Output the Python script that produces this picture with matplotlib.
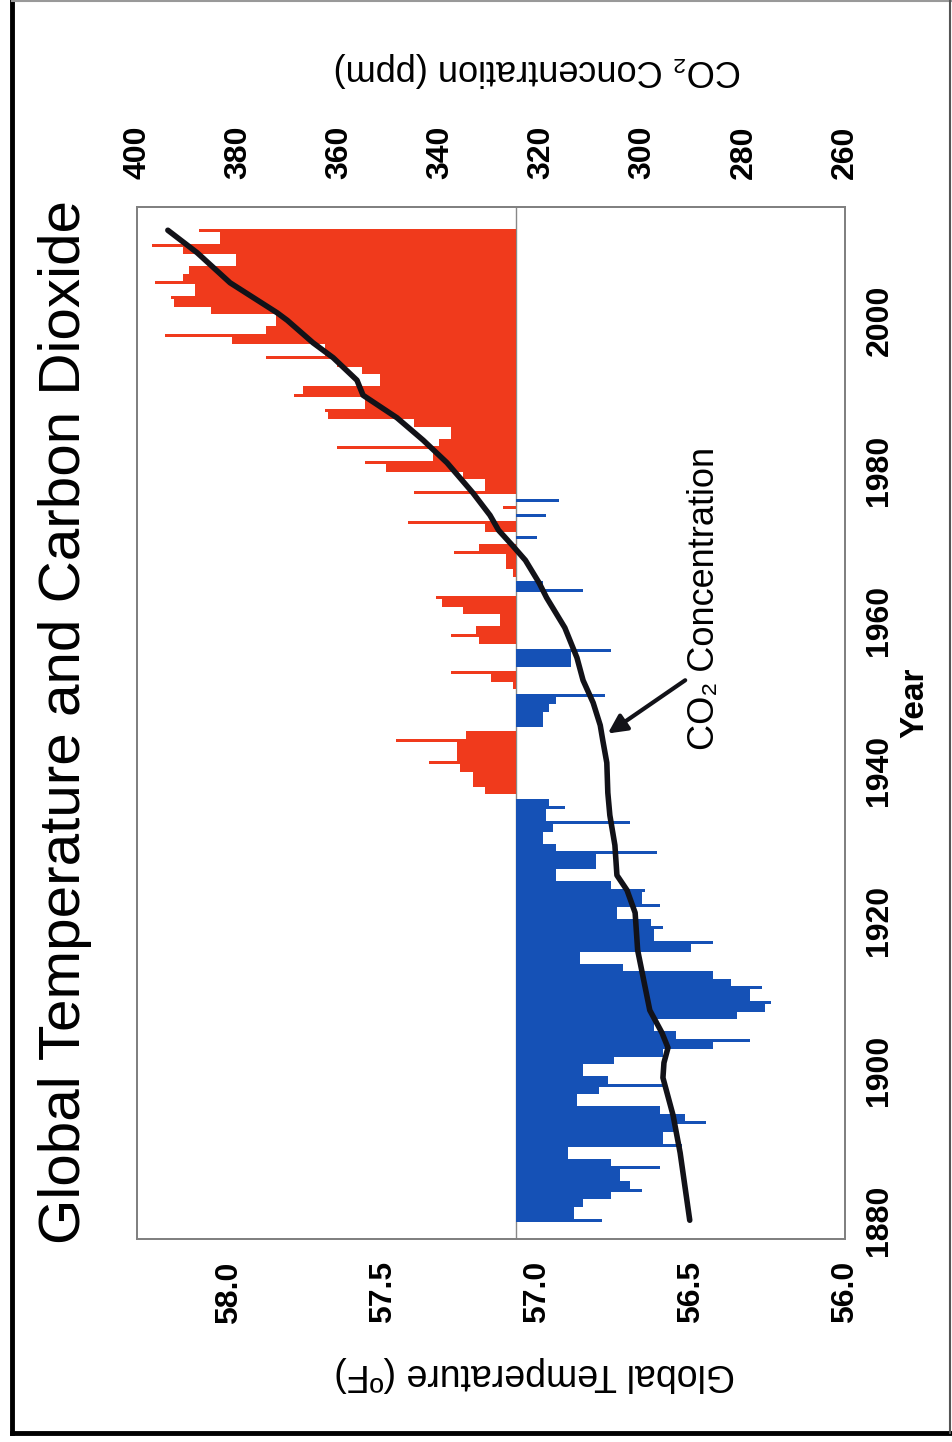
import numpy as np
import matplotlib
matplotlib.use('Agg')
import matplotlib.pyplot as plt
from matplotlib.lines import Line2D

plt.rcParams['font.family'] = ['Liberation Sans', 'DejaVu Sans']

## annual global temperature, deg F above/below the bar baseline
years = np.arange(1880, 2013)
temp_anom = np.array([
    -0.28, -0.19, -0.22, -0.31, -0.41, -0.37, -0.34, -0.47, -0.31, -0.17,   # 1880s
    -0.54, -0.48, -0.52, -0.62, -0.55, -0.47, -0.20, -0.27, -0.48, -0.30,   # 1890s
    -0.22, -0.32, -0.48, -0.64, -0.76, -0.52, -0.45, -0.72, -0.81, -0.83,   # 1900s
    -0.76, -0.80, -0.70, -0.64, -0.35, -0.21, -0.57, -0.64, -0.45, -0.48,   # 1910s
    -0.44, -0.33, -0.47, -0.41, -0.42, -0.31, -0.13, -0.26, -0.26, -0.46,   # 1920s
    -0.13, -0.09, -0.12, -0.37, -0.10, -0.16, -0.11, 0.10, 0.14, 0.14,      # 1930s
    0.18, 0.28, 0.19, 0.19, 0.39, 0.16, -0.09, -0.09, -0.11, -0.13,         # 1940s
    -0.29, 0.01, 0.08, 0.21, -0.18, -0.18, -0.31, 0.12, 0.21, 0.13,         # 1950s
    0.05, 0.17, 0.24, 0.26, -0.22, -0.09, 0.01, 0.03, 0.03, 0.20,           # 1960s
    0.12, -0.07, 0.10, 0.35, -0.10, 0.04, -0.14, 0.33, 0.10, 0.17,          # 1970s
    0.42, 0.49, 0.27, 0.58, 0.25, 0.21, 0.33, 0.61, 0.62, 0.49,             # 1980s
    0.72, 0.69, 0.44, 0.50, 0.58, 0.81, 0.62, 0.92, 1.14, 0.81,             # 1990s
    0.78, 0.99, 1.11, 1.12, 1.04, 1.17, 1.08, 1.06, 0.91, 1.08,             # 2000s
    1.18, 0.96, 1.03])                                                      # 2010s
BASE = 57.07

## CO2 concentration (ppm)
co2_years = [1880, 1889, 1894, 1899, 1901, 1903, 1905, 1908, 1913, 1916,
             1921, 1924, 1926, 1930, 1934, 1937, 1941, 1944, 1946, 1949,
             1952, 1955, 1959, 1963, 1965, 1968, 1970, 1972, 1974, 1977,
             1981, 1984, 1987, 1990, 1992, 1995, 1997, 2000, 2001, 2005,
             2009, 2012]
co2_ppm = [290.7, 292.6, 294.0, 296.0, 295.8, 295.0, 296.2, 298.6, 300.1, 301.0,
           301.5, 303.1, 305.1, 305.5, 306.5, 306.9, 307.1, 307.9, 308.4, 309.8,
           311.8, 313.0, 315.4, 319.0, 320.5, 323.2, 325.8, 328.5, 330.2, 333.6,
           338.7, 343.4, 348.6, 355.3, 356.5, 361.2, 365.2, 370.3, 372.3, 381.6,
           388.1, 393.9]

temp_ticks = [58.0, 57.5, 57.0, 56.5, 56.0]
co2_ticks = [400, 380, 360, 340, 320, 300, 280, 260]
year_ticks = [1880, 1900, 1920, 1940, 1960, 1980, 2000]

red = '#f03a1c'
blue = '#1551b6'

fig = plt.figure(figsize=(9.53, 14.42), dpi=100)
ax = fig.add_axes([137/953., 1-1239/1442., 708/953., 1032/1442.])

## thin bar for each year, plus fill between neighbouring years of same sign
cols = np.where(temp_anom >= 0, red, blue)
ax.barh(years, temp_anom, left=BASE, height=0.4, color=cols, linewidth=0)
a, b = temp_anom[:-1], temp_anom[1:]
same = np.sign(a) == np.sign(b)
fill = np.where(same, np.sign(a)*np.minimum(np.abs(a), np.abs(b)), 0.0)
ax.barh(years[:-1]+0.5, fill, left=BASE, height=1.0,
        color=np.where(fill >= 0, red, blue), linewidth=0)
ax.axvline(BASE, color='#888888', lw=1.0, zorder=0.5)

ax.set_xlim(58.3, 56.0)
ax.set_ylim(1877.5, 2015.1)
ax.set_xticks(temp_ticks)
ax.set_xticklabels(['%.1f' % t for t in temp_ticks], rotation=90, fontsize=23,
                   fontweight='bold')
ax.yaxis.tick_right()
ax.set_yticks(year_ticks)
ax.set_yticklabels([str(y) for y in year_ticks], rotation=90, fontsize=23,
                   va='center', fontweight='bold')
ax.tick_params(axis='x', length=0, pad=16)
ax.tick_params(axis='y', length=0, pad=14)

ax2 = ax.twiny()
ax2.plot(co2_ppm, co2_years, color='#121218', lw=4.0, solid_capstyle='round')
ax2.set_xlim(400, 260)
ax2.set_xticks(co2_ticks)
ax2.set_xticklabels([str(c) for c in co2_ticks], rotation=90, fontsize=23,
                    fontweight='bold')
ax2.tick_params(axis='x', length=0, pad=20)

for axis in (ax, ax2):
    for s in axis.spines.values():
        s.set_color('#808080')
        s.set_linewidth(1.3)

ax2.annotate('', xy=(306.9, 1944.9), xytext=(291.6, 1952.0),
             arrowprops=dict(arrowstyle='-|>', color='#121218', lw=3,
                             mutation_scale=28, shrinkA=0, shrinkB=0))
ax2.text(287.7, 1962.9, 'CO₂ Concentration', rotation=90, ha='center',
         va='center', fontsize=26)

fig.text(65/953., 1-722/1442., 'Global Temperature and Carbon Dioxide',
         rotation=90, ha='center', va='center', fontsize=42)
fig.text(535/953., 1-1374/1442., 'Global Temperature (ºF)', rotation=180,
         ha='center', va='center', fontsize=27)
fig.text(537/953., 1-70/1442., 'CO₂ Concentration (ppm)', rotation=180,
         ha='center', va='center', fontsize=26)
fig.text(915/953., 1-703/1442., 'Year', rotation=90, ha='center',
         va='center', fontsize=24, fontweight='bold')

## outer frame
y_bot = 1 - 1433/1442.
fig.add_artist(Line2D([12/953., 12/953.], [y_bot, 1], color='black', lw=3.5,
                      transform=fig.transFigure))
fig.add_artist(Line2D([12/953., 1], [y_bot, y_bot], color='black', lw=3.5,
                      transform=fig.transFigure))
fig.add_artist(Line2D([12/953., 1], [1-1/1442., 1-1/1442.], color='#999999', lw=1.5,
                      transform=fig.transFigure))
fig.add_artist(Line2D([950/953., 950/953.], [y_bot, 1], color='#555555', lw=1.5,
                      transform=fig.transFigure))

fig.savefig('out.png', dpi=100)
plt.close('all')
